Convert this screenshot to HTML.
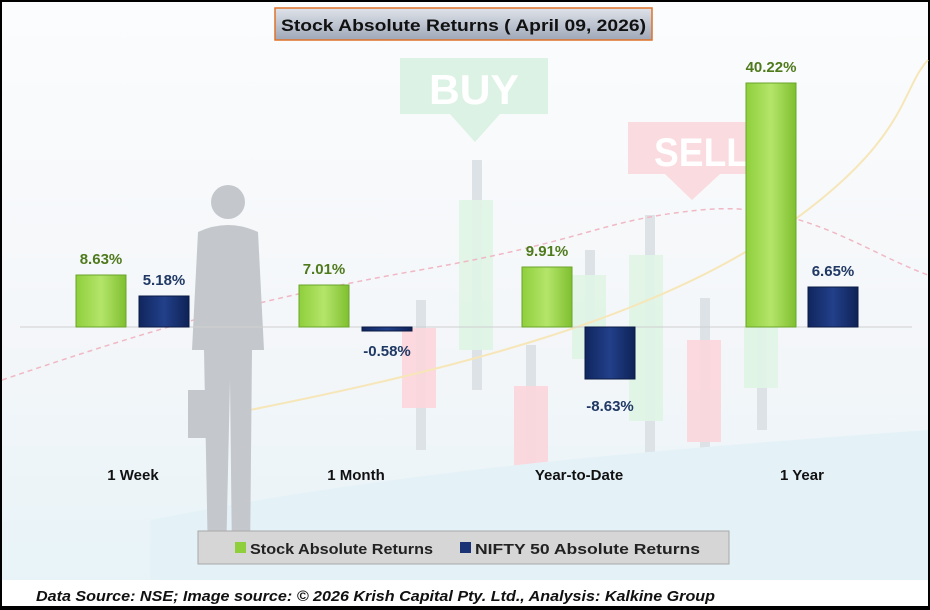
<!DOCTYPE html>
<html><head><meta charset="utf-8"><style>
body{margin:0;background:#fff}
svg{display:block;font-family:"Liberation Sans",sans-serif}
</style></head><body>
<svg width="930" height="610" viewBox="0 0 930 610">
<defs>
<linearGradient id="bg" x1="0" y1="0" x2="0" y2="1"><stop offset="0" stop-color="#fbfcfd"/><stop offset="0.6" stop-color="#f3f6f9"/><stop offset="1" stop-color="#e6f3f8"/></linearGradient>
<linearGradient id="gr" x1="0" y1="0" x2="1" y2="0"><stop offset="0" stop-color="#8fcf3c"/><stop offset="0.5" stop-color="#b4e56a"/><stop offset="1" stop-color="#7fbf30"/></linearGradient>
<linearGradient id="nv" x1="0" y1="0" x2="1" y2="0"><stop offset="0" stop-color="#10265e"/><stop offset="0.5" stop-color="#22408a"/><stop offset="1" stop-color="#0e2256"/></linearGradient>
<linearGradient id="tb" x1="0" y1="0" x2="0" y2="1"><stop offset="0" stop-color="#dfe3ea"/><stop offset="1" stop-color="#9fa8b8"/></linearGradient>
</defs>
<rect x="0" y="0" width="930" height="610" fill="#000"/>
<rect x="2" y="2" width="926" height="604" fill="url(#bg)"/>
<rect x="400" y="58" width="148" height="56" fill="#dcf2e4"/>
<text x="474" y="104" font-size="42" font-weight="bold" fill="#fff" text-anchor="middle" textLength="90" lengthAdjust="spacingAndGlyphs">BUY</text>
<polygon points="450,114 500,114 475,142" fill="#dcf2e4"/>
<rect x="628" y="122" width="118" height="52" fill="#fadbe0"/>
<text x="654" y="166" font-size="40" font-weight="bold" fill="#fff" textLength="95" lengthAdjust="spacingAndGlyphs">SELL</text>
<polygon points="665,174 720,174 692,200" fill="#fadbe0"/>
<g fill="#dde2e7"><rect x="472" y="160" width="10" height="230"/><rect x="416" y="300" width="10" height="150"/><rect x="526" y="345" width="10" height="120"/><rect x="585" y="250" width="10" height="110"/><rect x="645" y="215" width="10" height="240"/><rect x="700" y="298" width="10" height="180"/><rect x="757" y="320" width="10" height="110"/></g>
<g opacity="0.9"><rect x="459" y="200" width="34" height="150" fill="#e0f5e6"/><rect x="402" y="328" width="34" height="80" fill="#fcd6dc"/><rect x="514" y="386" width="34" height="84" fill="#fcd6dc"/><rect x="572" y="275" width="34" height="84" fill="#e0f5e6"/><rect x="629" y="255" width="34" height="166" fill="#e0f5e6"/><rect x="687" y="340" width="34" height="102" fill="#fcd6dc"/><rect x="744" y="326" width="34" height="62" fill="#e0f5e6"/></g>
<path d="M2,380 C150,330 250,300 420,270 S600,220 700,210 S860,250 928,275" fill="none" stroke="#f0b8c4" stroke-width="1.5" stroke-dasharray="5,4"/>
<path d="M250,410 C450,370 650,320 780,230 S900,90 928,60" fill="none" stroke="#f6e6b8" stroke-width="2"/>
<path d="M150,520 C400,470 650,450 928,430 L928,600 L150,600Z" fill="#e4f2f8"/>
<g fill="#c4c7cb"><circle cx="228" cy="202" r="17"/><path d="M198,232 Q228,218 258,232 L264,350 L252,350 L250,560 L232,560 L230,380 L226,560 L208,560 L204,350 L192,350Z"/><rect x="188" y="390" width="18" height="48"/></g>
<line x1="20" y1="327" x2="912" y2="327" fill="none" stroke="#d0d0d0" stroke-width="1"/>
<g stroke-width="1">
<rect x="76" y="275" width="50" height="52" fill="url(#gr)" stroke="#6aa52a"/>
<rect x="139" y="296" width="50" height="31" fill="url(#nv)" stroke="#0a1a44"/>
<rect x="299" y="285" width="50" height="42" fill="url(#gr)" stroke="#6aa52a"/>
<rect x="362" y="327" width="50" height="4" fill="url(#nv)" stroke="#0a1a44"/>
<rect x="522" y="267" width="50" height="60" fill="url(#gr)" stroke="#6aa52a"/>
<rect x="585" y="327" width="50" height="52" fill="url(#nv)" stroke="#0a1a44"/>
<rect x="746" y="83" width="50" height="244" fill="url(#gr)" stroke="#6aa52a"/>
<rect x="808" y="287" width="50" height="40" fill="url(#nv)" stroke="#0a1a44"/>
</g>
<g font-size="15" font-weight="bold" text-anchor="middle">
<text x="101" y="264" fill="#4f7a1c">8.63%</text>
<text x="164" y="285" fill="#1f3864">5.18%</text>
<text x="324" y="274" fill="#4f7a1c">7.01%</text>
<text x="387" y="356" fill="#1f3864">-0.58%</text>
<text x="547" y="256" fill="#4f7a1c">9.91%</text>
<text x="610" y="411" fill="#1f3864">-8.63%</text>
<text x="771" y="72" fill="#4f7a1c">40.22%</text>
<text x="833" y="276" fill="#1f3864">6.65%</text>
</g>
<g font-size="15" font-weight="bold" fill="#111" text-anchor="middle">
<text x="133" y="480">1 Week</text><text x="356" y="480">1 Month</text><text x="579" y="480">Year-to-Date</text><text x="802" y="480">1 Year</text>
</g>
<rect x="275" y="8" width="377" height="32" fill="url(#tb)" stroke="#e0722a" stroke-width="1.5"/>
<text x="281" y="31" font-size="17" font-weight="bold" fill="#111" textLength="365" lengthAdjust="spacingAndGlyphs">Stock Absolute Returns  ( April 09, 2026)</text>
<rect x="198" y="531" width="531" height="33" fill="#d6d6d6" stroke="#a8a8a8"/>
<rect x="235" y="542" width="11" height="11" fill="#8fcf3c"/>
<text x="250" y="554" font-size="15" font-weight="bold" fill="#222" textLength="183" lengthAdjust="spacingAndGlyphs">Stock Absolute Returns</text>
<rect x="460" y="542" width="11" height="11" fill="#1a3375"/>
<text x="475" y="554" font-size="15" font-weight="bold" fill="#222" textLength="225" lengthAdjust="spacingAndGlyphs">NIFTY 50 Absolute Returns</text>
<rect x="2" y="580" width="926" height="26" fill="#fff"/>
<text x="36" y="601" font-size="15" font-weight="bold" font-style="italic" fill="#111" textLength="679" lengthAdjust="spacingAndGlyphs">Data Source: NSE; Image source: © 2026 Krish Capital Pty. Ltd., Analysis: Kalkine Group</text>
</svg>
</body></html>
